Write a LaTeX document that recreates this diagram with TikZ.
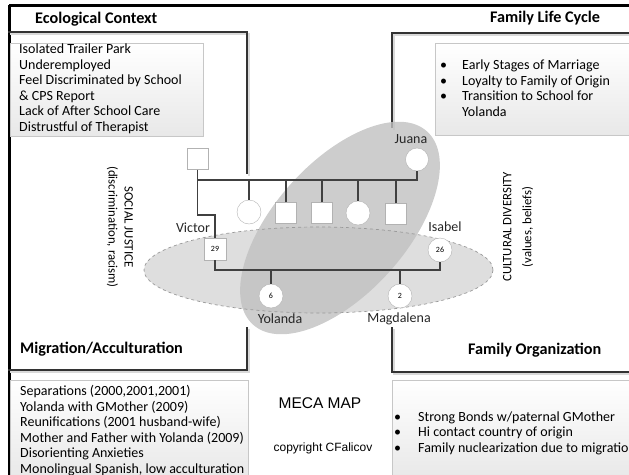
\documentclass[tikz,border=0pt]{standalone}
\usepackage{fontspec}
\setmainfont{Carlito}
\newfontfamily\arialfont{Liberation Sans}
\usetikzlibrary{positioning}

\definecolor{ovalA}{RGB}{222,222,222}
\definecolor{ovalB}{RGB}{192,192,192}

\begin{document}
\begin{tikzpicture}[x=1pt,y=-1pt,
    frame/.style={line width=3pt, black},
    boxline/.style={line width=2.4pt, black!80, line cap=rect},
    boxshade/.style={line width=2.4pt, black!15, line cap=rect},
    infobox/.style={draw=black!22, line width=0.6pt, top color=white, bottom color=black!9},
    male/.style={draw=black!30, fill=white, minimum size=21pt, inner sep=0pt, font=\fontsize{8}{8}\selectfont},
    female/.style={circle, draw=black!30, fill=white, minimum size=24pt, inner sep=0pt, font=\fontsize{8}{8}\selectfont},
    tie/.style={black!75, line width=1.2pt},
    who/.style={font=\fontsize{14}{14}\selectfont, text=black!85, inner sep=0pt},
    heading/.style={font=\fontsize{16.2}{17}\selectfont\bfseries, anchor=west, inner sep=0pt},
    body/.style={font=\fontsize{14}{15.6}\selectfont, align=left, anchor=north west, inner sep=0pt}
  ]
  \useasboundingbox (0,0) rectangle (629,474);

  % outer frame
  \draw[frame] (9,5) -- (631,5);
  \draw[frame] (9,5) -- (9,476);

  % quadrant boxes
  \draw[boxshade] (11,34) -- (249,34) -- (249,175);
  \draw[boxshade] (249,330) -- (249,372) -- (11,372);
  \draw[boxshade] (631,35) -- (394,35) -- (394,129);
  \draw[boxshade] (394,330) -- (394,374) -- (631,374);
  \draw[boxline] (9,32) -- (247,32) -- (247,173);
  \draw[boxline] (247,328) -- (247,370) -- (9,370);
  \draw[boxline] (631,33) -- (392,33) -- (392,127);
  \draw[boxline] (392,328) -- (392,372) -- (631,372);

  % headings
  \node[heading] (ecohead) at (35,19) {Ecological Context};
  \node[heading] (cyclehead) at (490,18) {Family Life Cycle};
  \node[heading] (migrhead) at (20,349) {Migration/Acculturation};
  \node[heading] (orghead) at (468,350) {Family Organization};

  % text boxes
  \draw[infobox] (10,43) rectangle (203,136);
  \node[body] (eco) at (19,43.5) {Isolated Trailer Park\\Underemployed\\Feel Discriminated by School\\\& CPS Report\\Lack of After School Care\\Distrustful of Therapist};

  \draw[infobox] (435,43) rectangle (633,135);
  \node[body] (cycle) at (440,58.5) {%
    \begin{tabular}{@{}p{22pt}@{}l@{}}
      \textbullet & Early Stages of Marriage\\
      \textbullet & Loyalty to Family of Origin\\
      \textbullet & Transition to School for\\
                  & Yolanda
    \end{tabular}};

  \draw[infobox] (10,380) rectangle (248,480);
  \node[body] (migr) at (20,385) {Separations (2000,2001,2001)\\Yolanda with GMother (2009)\\Reunifications (2001 husband-wife)\\Mother and Father with Yolanda (2009)\\Disorienting Anxieties\\Monolingual Spanish, low acculturation};

  \draw[infobox] (392,380) rectangle (633,480);
  \node[body] (org) at (394,410) {%
    \begin{tabular}{@{}p{24pt}@{}l@{}}
      \textbullet & Strong Bonds w/paternal GMother\\
      \textbullet & Hi contact country of origin\\
      \textbullet & Family nuclearization due to migration
    \end{tabular}};

  % side captions
  \node[rotate=-90, align=center, font=\fontsize{12.8}{16}\selectfont] (justice) at (120,227) {SOCIAL JUSTICE\\(discrimination, racism)};
  \node[rotate=90, align=center, font=\fontsize{12.8}{20}\selectfont] (diversity) at (518,227) {CULTURAL DIVERSITY\\(values, beliefs)};

  % title
  \node[font=\arialfont\fontsize{15.5}{16}\selectfont] (meca) at (320,403) {MECA MAP};
  \node[font=\arialfont\fontsize{12}{12}\selectfont] (copy) at (323,448) {copyright CFalicov};

  % overlapping ovals
  \fill[ovalA] (318.5,270) ellipse [x radius=174.5, y radius=43];
  \fill[ovalB, fill opacity=0.8, rotate around={48:(340,228)}] (340,228) ellipse [x radius=130, y radius=66];
  \draw[black!40, dashed, line width=0.7pt] (318.5,270) ellipse [x radius=174.5, y radius=43];

  % genogram
  \node[male] (gfather) at (197.5,159) {};
  \node[female, minimum size=23pt] (juana) at (417,159.5) {};
  \node[female] (kid1) at (249,212) {};
  \node[male] (kid2) at (286,213) {};
  \node[male] (kid3) at (322,213) {};
  \node[female] (kid4) at (358,213) {};
  \node[male] (kid5) at (396,214) {};
  \node[male, minimum size=22pt] (victor) at (215,249) {29};
  \node[female] (isabel) at (440,250) {26};
  \node[female] (yolanda) at (271,296) {6};
  \node[female] (magdalena) at (400,296) {2};

  \coordinate (sibs) at (0,180);
  \coordinate (wed) at (0,270);
  \draw[tie] (gfather.south) -- (gfather.south |- sibs) -- (juana.south |- sibs) -- (juana.south);
  \foreach \k in {kid1,kid2,kid3,kid4,kid5}
    \draw[tie] (\k.north) -- (\k.north |- sibs);
  \draw[tie] (gfather.south |- sibs) -- ++(0,35) -| (victor.north);
  \draw[tie] (victor.south) -- (victor.south |- wed) -- (isabel.south |- wed) -- (isabel.south);
  \draw[tie] (yolanda.north) -- (yolanda.north |- wed);
  \draw[tie] (magdalena.north) -- (magdalena.north |- wed);

  \node[who] (juananame) at (411,139) {Juana};
  \node[who] (victorname) at (193,228) {Victor};
  \node[who] (isabelname) at (445,227) {Isabel};
  \node[who] (yolandaname) at (280,319) {Yolanda};
  \node[who] (magdalenaname) at (399,319) {Magdalena};
\end{tikzpicture}
\end{document}
